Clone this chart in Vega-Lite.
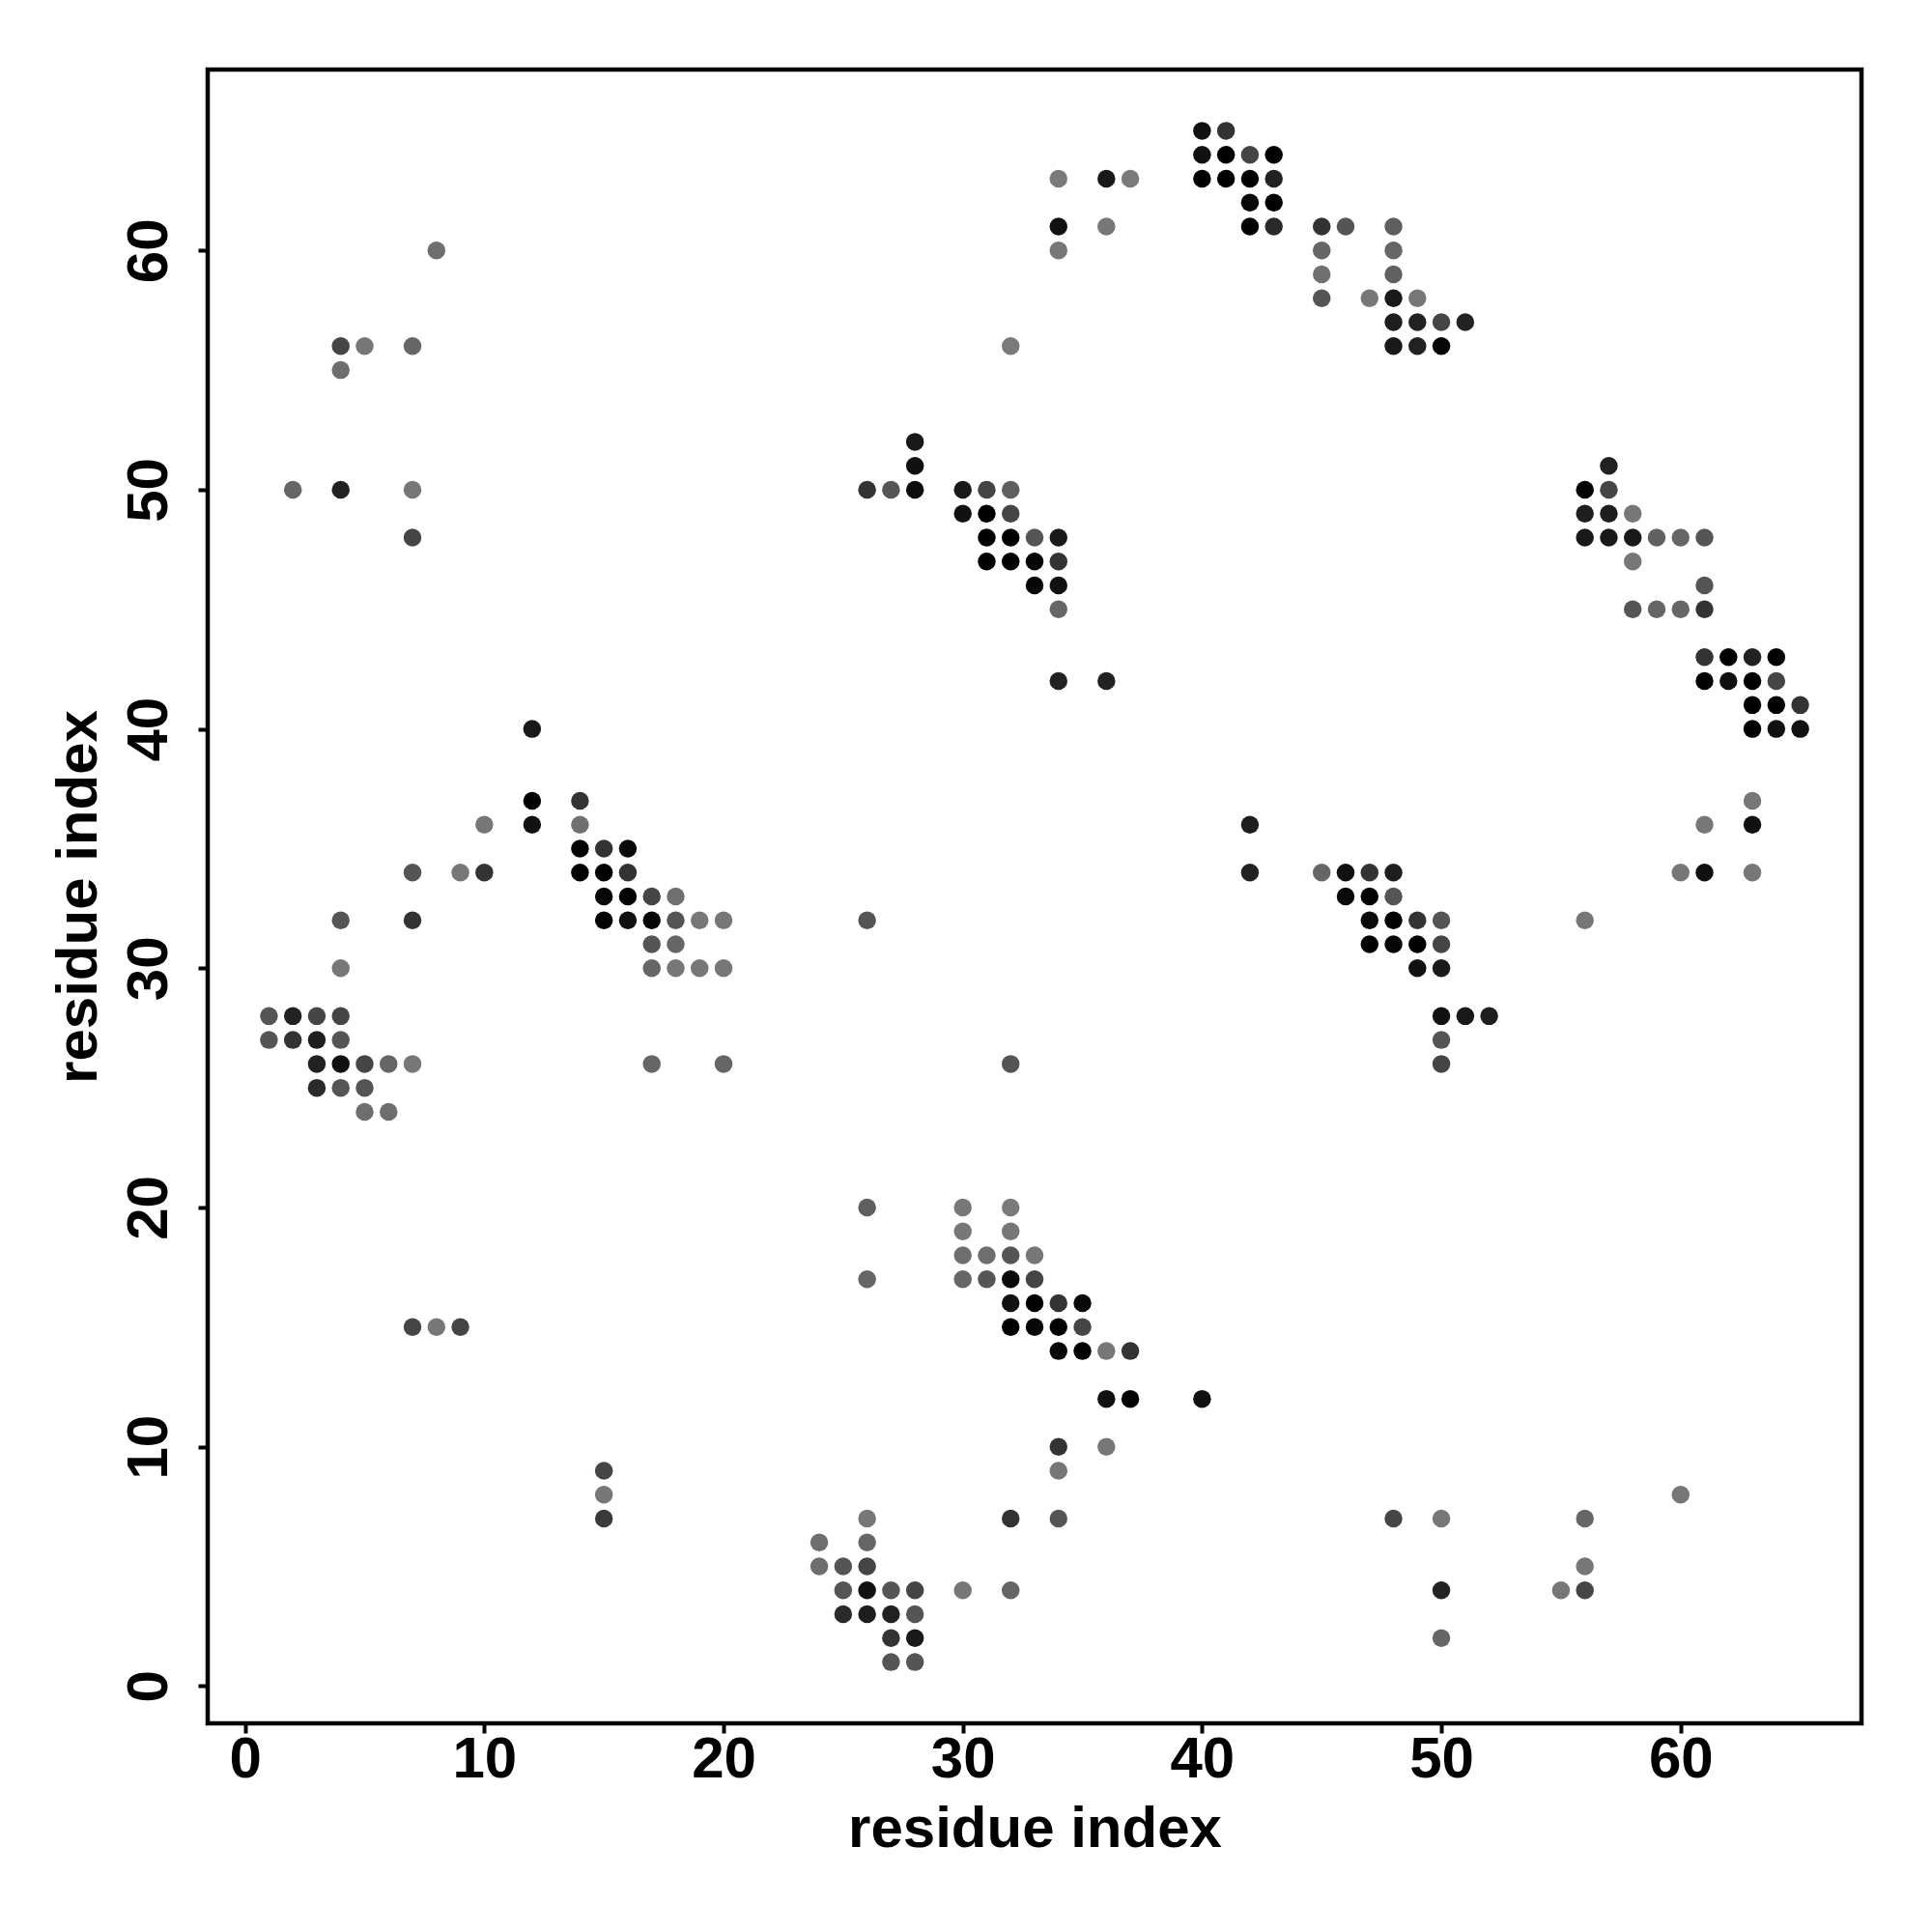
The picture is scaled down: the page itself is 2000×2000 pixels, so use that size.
{
  "$schema": "https://vega.github.io/schema/vega-lite/v6.json",
  "width": 1712,
  "height": 1712,
  "autosize": {"type": "none"},
  "padding": {"left": 215, "top": 72, "right": 73, "bottom": 216},
  "background": "white",
  "config": {
    "view": {"stroke": "black", "strokeWidth": 4.5},
    "axis": {
      "grid": false,
      "domain": false,
      "tickColor": "black",
      "tickSize": 10,
      "tickWidth": 4,
      "labelFont": "Liberation Sans",
      "labelFontSize": 60,
      "labelFontWeight": "bold",
      "labelColor": "black",
      "labelFlush": false,
      "labelOverlap": false,
      "titleFont": "Liberation Sans",
      "titleFontSize": 60,
      "titleFontWeight": "bold",
      "titleColor": "black"
    }
  },
  "data": {
    "values": [
      {"x":40,"y":65,"w":0.87},{"x":41,"y":65,"w":0.6},
      {"x":40,"y":64,"w":0.87},{"x":41,"y":64,"w":1},{"x":42,"y":64,"w":0.46},{"x":43,"y":64,"w":1},
      {"x":34,"y":63,"w":0.04},{"x":36,"y":63,"w":0.8},{"x":37,"y":63,"w":0.04},{"x":40,"y":63,"w":1},{"x":41,"y":63,"w":1},{"x":42,"y":63,"w":1},{"x":43,"y":63,"w":0.73},
      {"x":42,"y":62,"w":0.92},{"x":43,"y":62,"w":1},
      {"x":34,"y":61,"w":0.87},{"x":36,"y":61,"w":0.06},{"x":42,"y":61,"w":1},{"x":43,"y":61,"w":0.67},{"x":45,"y":61,"w":0.6},{"x":46,"y":61,"w":0.33},{"x":48,"y":61,"w":0.25},
      {"x":8,"y":60,"w":0.13},{"x":34,"y":60,"w":0.06},{"x":45,"y":60,"w":0.2},{"x":48,"y":60,"w":0.2},
      {"x":45,"y":59,"w":0.12},{"x":48,"y":59,"w":0.24},
      {"x":45,"y":58,"w":0.33},{"x":47,"y":58,"w":0.06},{"x":48,"y":58,"w":0.8},{"x":49,"y":58,"w":0.06},
      {"x":48,"y":57,"w":0.76},{"x":49,"y":57,"w":0.73},{"x":50,"y":57,"w":0.46},{"x":51,"y":57,"w":0.73},
      {"x":4,"y":56,"w":0.46},{"x":5,"y":56,"w":0.06},{"x":7,"y":56,"w":0.2},{"x":32,"y":56,"w":0.04},{"x":48,"y":56,"w":0.8},{"x":49,"y":56,"w":0.73},{"x":50,"y":56,"w":0.96},
      {"x":4,"y":55,"w":0.13},
      {"x":28,"y":52,"w":0.8},
      {"x":28,"y":51,"w":0.87},{"x":57,"y":51,"w":0.73},
      {"x":2,"y":50,"w":0.2},{"x":4,"y":50,"w":0.73},{"x":7,"y":50,"w":0.06},{"x":26,"y":50,"w":0.6},{"x":27,"y":50,"w":0.33},{"x":28,"y":50,"w":0.9},{"x":30,"y":50,"w":0.8},{"x":31,"y":50,"w":0.46},{"x":32,"y":50,"w":0.25},{"x":56,"y":50,"w":0.96},{"x":57,"y":50,"w":0.46},
      {"x":30,"y":49,"w":0.87},{"x":31,"y":49,"w":1},{"x":32,"y":49,"w":0.46},{"x":56,"y":49,"w":0.76},{"x":57,"y":49,"w":0.76},{"x":58,"y":49,"w":0.06},
      {"x":7,"y":48,"w":0.46},{"x":31,"y":48,"w":1},{"x":32,"y":48,"w":1},{"x":33,"y":48,"w":0.33},{"x":34,"y":48,"w":0.8},{"x":56,"y":48,"w":0.8},{"x":57,"y":48,"w":0.8},{"x":58,"y":48,"w":0.8},{"x":59,"y":48,"w":0.24},{"x":60,"y":48,"w":0.2},{"x":61,"y":48,"w":0.33},
      {"x":31,"y":47,"w":1},{"x":32,"y":47,"w":1},{"x":33,"y":47,"w":0.96},{"x":34,"y":47,"w":0.6},{"x":58,"y":47,"w":0.06},
      {"x":33,"y":46,"w":0.94},{"x":34,"y":46,"w":0.87},{"x":61,"y":46,"w":0.33},
      {"x":34,"y":45,"w":0.2},{"x":58,"y":45,"w":0.33},{"x":59,"y":45,"w":0.2},{"x":60,"y":45,"w":0.2},{"x":61,"y":45,"w":0.6},
      {"x":61,"y":43,"w":0.6},{"x":62,"y":43,"w":1},{"x":63,"y":43,"w":0.73},{"x":64,"y":43,"w":1},
      {"x":34,"y":42,"w":0.73},{"x":36,"y":42,"w":0.73},{"x":61,"y":42,"w":1},{"x":62,"y":42,"w":0.87},{"x":63,"y":42,"w":1},{"x":64,"y":42,"w":0.46},
      {"x":63,"y":41,"w":1},{"x":64,"y":41,"w":1},{"x":65,"y":41,"w":0.6},
      {"x":12,"y":40,"w":0.8},{"x":63,"y":40,"w":1},{"x":64,"y":40,"w":0.87},{"x":65,"y":40,"w":0.87},
      {"x":12,"y":37,"w":1},{"x":14,"y":37,"w":0.6},{"x":63,"y":37,"w":0.06},
      {"x":10,"y":36,"w":0.06},{"x":12,"y":36,"w":0.87},{"x":14,"y":36,"w":0.12},{"x":42,"y":36,"w":0.76},{"x":61,"y":36,"w":0.06},{"x":63,"y":36,"w":0.87},
      {"x":14,"y":35,"w":1},{"x":15,"y":35,"w":0.6},{"x":16,"y":35,"w":0.92},
      {"x":7,"y":34,"w":0.33},{"x":9,"y":34,"w":0.06},{"x":10,"y":34,"w":0.6},{"x":14,"y":34,"w":1},{"x":15,"y":34,"w":1},{"x":16,"y":34,"w":0.6},{"x":42,"y":34,"w":0.73},{"x":45,"y":34,"w":0.2},{"x":46,"y":34,"w":0.87},{"x":47,"y":34,"w":0.6},{"x":48,"y":34,"w":0.76},{"x":60,"y":34,"w":0.06},{"x":61,"y":34,"w":0.87},{"x":63,"y":34,"w":0.06},
      {"x":15,"y":33,"w":0.94},{"x":16,"y":33,"w":1},{"x":17,"y":33,"w":0.46},{"x":18,"y":33,"w":0.12},{"x":46,"y":33,"w":0.92},{"x":47,"y":33,"w":1},{"x":48,"y":33,"w":0.33},
      {"x":4,"y":32,"w":0.33},{"x":7,"y":32,"w":0.6},{"x":15,"y":32,"w":1},{"x":16,"y":32,"w":0.87},{"x":17,"y":32,"w":0.96},{"x":18,"y":32,"w":0.33},{"x":19,"y":32,"w":0.06},{"x":20,"y":32,"w":0.06},{"x":26,"y":32,"w":0.33},{"x":47,"y":32,"w":0.92},{"x":48,"y":32,"w":1},{"x":49,"y":32,"w":0.6},{"x":50,"y":32,"w":0.33},{"x":56,"y":32,"w":0.06},
      {"x":17,"y":31,"w":0.33},{"x":18,"y":31,"w":0.2},{"x":47,"y":31,"w":1},{"x":48,"y":31,"w":0.96},{"x":49,"y":31,"w":1},{"x":50,"y":31,"w":0.46},
      {"x":4,"y":30,"w":0.06},{"x":17,"y":30,"w":0.2},{"x":18,"y":30,"w":0.06},{"x":19,"y":30,"w":0.06},{"x":20,"y":30,"w":0.06},{"x":49,"y":30,"w":0.87},{"x":50,"y":30,"w":0.8},
      {"x":1,"y":28,"w":0.33},{"x":2,"y":28,"w":0.73},{"x":3,"y":28,"w":0.46},{"x":4,"y":28,"w":0.46},{"x":50,"y":28,"w":0.87},{"x":51,"y":28,"w":0.8},{"x":52,"y":28,"w":0.76},
      {"x":1,"y":27,"w":0.33},{"x":2,"y":27,"w":0.6},{"x":3,"y":27,"w":0.76},{"x":4,"y":27,"w":0.33},{"x":50,"y":27,"w":0.33},
      {"x":3,"y":26,"w":0.73},{"x":4,"y":26,"w":0.87},{"x":5,"y":26,"w":0.46},{"x":6,"y":26,"w":0.2},{"x":7,"y":26,"w":0.06},{"x":17,"y":26,"w":0.2},{"x":20,"y":26,"w":0.2},{"x":32,"y":26,"w":0.33},{"x":50,"y":26,"w":0.46},
      {"x":3,"y":25,"w":0.67},{"x":4,"y":25,"w":0.33},{"x":5,"y":25,"w":0.33},
      {"x":5,"y":24,"w":0.13},{"x":6,"y":24,"w":0.13},
      {"x":26,"y":20,"w":0.25},{"x":30,"y":20,"w":0.06},{"x":32,"y":20,"w":0.04},
      {"x":30,"y":19,"w":0.06},{"x":32,"y":19,"w":0.06},
      {"x":30,"y":18,"w":0.13},{"x":31,"y":18,"w":0.13},{"x":32,"y":18,"w":0.33},{"x":33,"y":18,"w":0.06},
      {"x":26,"y":17,"w":0.2},{"x":30,"y":17,"w":0.2},{"x":31,"y":17,"w":0.33},{"x":32,"y":17,"w":0.92},{"x":33,"y":17,"w":0.46},
      {"x":32,"y":16,"w":0.87},{"x":33,"y":16,"w":1},{"x":34,"y":16,"w":0.6},{"x":35,"y":16,"w":0.92},
      {"x":7,"y":15,"w":0.46},{"x":8,"y":15,"w":0.06},{"x":9,"y":15,"w":0.46},{"x":32,"y":15,"w":1},{"x":33,"y":15,"w":0.94},{"x":34,"y":15,"w":1},{"x":35,"y":15,"w":0.46},
      {"x":34,"y":14,"w":0.94},{"x":35,"y":14,"w":1},{"x":36,"y":14,"w":0.06},{"x":37,"y":14,"w":0.6},
      {"x":36,"y":12,"w":0.87},{"x":37,"y":12,"w":1},{"x":40,"y":12,"w":0.87},
      {"x":34,"y":10,"w":0.6},{"x":36,"y":10,"w":0.06},
      {"x":15,"y":9,"w":0.46},{"x":34,"y":9,"w":0.06},
      {"x":15,"y":8,"w":0.06},{"x":60,"y":8,"w":0.06},
      {"x":15,"y":7,"w":0.54},{"x":26,"y":7,"w":0.06},{"x":32,"y":7,"w":0.6},{"x":34,"y":7,"w":0.33},{"x":48,"y":7,"w":0.46},{"x":50,"y":7,"w":0.06},{"x":56,"y":7,"w":0.2},
      {"x":24,"y":6,"w":0.13},{"x":26,"y":6,"w":0.2},
      {"x":24,"y":5,"w":0.13},{"x":25,"y":5,"w":0.33},{"x":26,"y":5,"w":0.46},{"x":56,"y":5,"w":0.06},
      {"x":25,"y":4,"w":0.33},{"x":26,"y":4,"w":0.87},{"x":27,"y":4,"w":0.33},{"x":28,"y":4,"w":0.46},{"x":30,"y":4,"w":0.06},{"x":32,"y":4,"w":0.2},{"x":50,"y":4,"w":0.73},{"x":55,"y":4,"w":0.06},{"x":56,"y":4,"w":0.46},
      {"x":25,"y":3,"w":0.67},{"x":26,"y":3,"w":0.76},{"x":27,"y":3,"w":0.73},{"x":28,"y":3,"w":0.33},
      {"x":27,"y":2,"w":0.6},{"x":28,"y":2,"w":0.8},{"x":50,"y":2,"w":0.2},
      {"x":27,"y":1,"w":0.33},{"x":28,"y":1,"w":0.33}
    ]
  },
  "mark": {"type": "circle", "size": 342, "opacity": 1},
  "encoding": {
    "x": {
      "field": "x", "type": "quantitative",
      "scale": {"domain": [-1.56, 67.56], "nice": false, "zero": false},
      "axis": {
        "values": [0, 10, 20, 30, 40, 50, 60],
        "title": "residue index",
        "labelBaseline": "alphabetic",
        "labelPadding": 45.5,
        "titleBaseline": "alphabetic",
        "titleAlign": "center",
        "titleX": 856,
        "titleY": 127.5
      }
    },
    "y": {
      "field": "y", "type": "quantitative",
      "scale": {"domain": [-1.56, 67.56], "nice": false, "zero": false},
      "axis": {
        "values": [0, 10, 20, 30, 40, 50, 60],
        "title": "residue index",
        "labelAngle": -90,
        "labelAlign": "center",
        "labelBaseline": "alphabetic",
        "labelPadding": 33,
        "titleAngle": -90,
        "titleBaseline": "alphabetic",
        "titleAlign": "center",
        "titleX": -116,
        "titleY": 856
      }
    },
    "color": {
      "field": "w", "type": "quantitative",
      "scale": {"domain": [0, 1], "range": ["#7f7f7f", "#000000"], "interpolate": "rgb"},
      "legend": null
    }
  }
}
